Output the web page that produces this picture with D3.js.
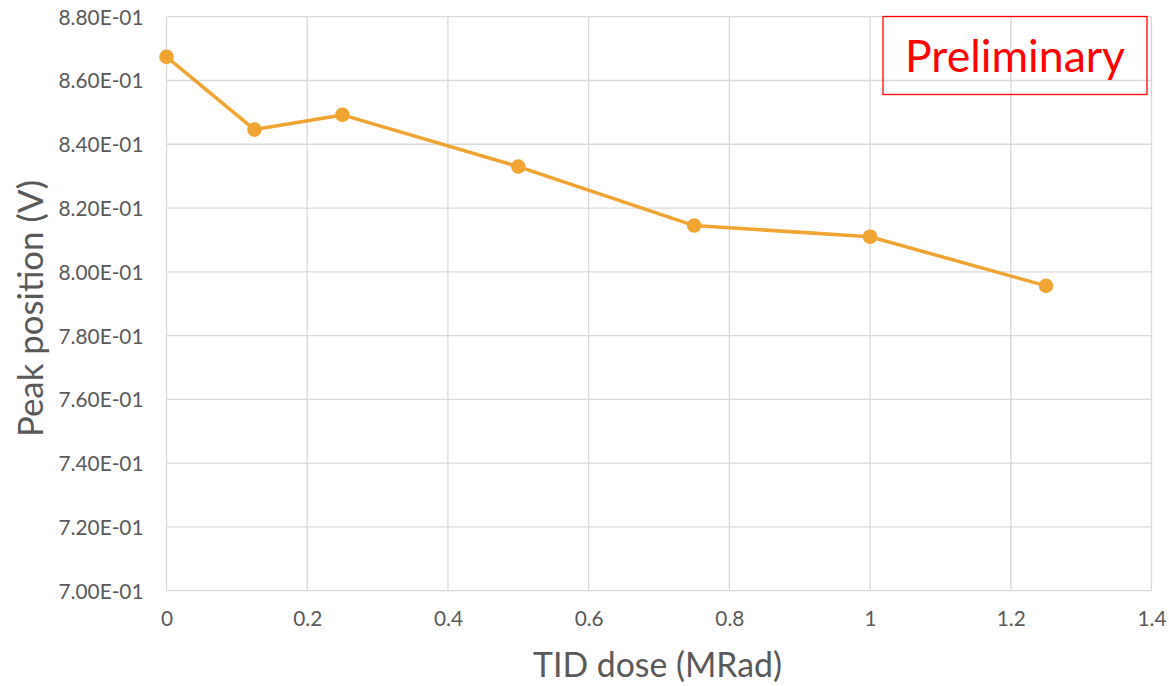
<!DOCTYPE html>
<html><head><meta charset="utf-8">
<script src="https://cdn.jsdelivr.net/npm/d3@7"></script>
<style>body{margin:0;background:#fff}svg{display:block}</style>
</head><body>
<script>
const doses = [0, 0.125, 0.25, 0.5, 0.75, 1.0, 1.25];
const peaks = [0.8674, 0.8446, 0.8492, 0.8330, 0.8145, 0.8110, 0.7956];
const xTicks = [0, 0.2, 0.4, 0.6, 0.8, 1, 1.2, 1.4];
const yTicks = [0.70, 0.72, 0.74, 0.76, 0.78, 0.80, 0.82, 0.84, 0.86, 0.88];

const W = 1169, H = 686;
const m = {l:166.5, r:1151.5, t:16.7, b:590.7};
const font = "Lato, 'Open Sans', sans-serif";
const svg = d3.select("body").append("svg").attr("width", W).attr("height", H);
const x = d3.scaleLinear().domain([0,1.4]).range([m.l, m.r]);
const y = d3.scaleLinear().domain([0.70,0.88]).range([m.b, m.t]);

function fitSize(sel, target, base) {
  const w = sel.node().getComputedTextLength();
  return base * target / w;
}

// gridlines
svg.append("g").selectAll("line").data(yTicks).join("line")
  .attr("x1", m.l).attr("x2", m.r).attr("y1", d=>y(d)).attr("y2", d=>y(d))
  .attr("stroke", "#d9d9d9").attr("stroke-width", 1.3);
svg.append("g").selectAll("line").data(xTicks).join("line")
  .attr("y1", m.t).attr("y2", m.b).attr("x1", d=>x(d)).attr("x2", d=>x(d))
  .attr("stroke", "#d9d9d9").attr("stroke-width", 1.3);

// axes labels
const yAxis = d3.axisLeft(y).tickValues(yTicks).tickSize(0).tickPadding(23)
  .tickFormat(d => d3.format(".2e")(d).replace("e-1","E-01"));
const gy = svg.append("g").attr("transform", `translate(${m.l},0)`).call(yAxis);
gy.select(".domain").remove();
gy.selectAll("text").attr("font-family", font).attr("font-size", 19).attr("fill", "#595959");
const tickSize = fitSize(gy.select("text"), 85, 19);
gy.selectAll("text").attr("font-size", tickSize).attr("dy", "0.36em");

const xAxis = d3.axisBottom(x).tickValues(xTicks).tickSize(0).tickPadding(21)
  .tickFormat(d => d3.format("~g")(d));
const gx = svg.append("g").attr("transform", `translate(0,${m.b})`).call(xAxis);
gx.select(".domain").remove();
gx.selectAll("text").attr("font-family", font).attr("font-size", tickSize).attr("fill", "#595959");

// axis titles
const xt = svg.append("text").attr("x", 657.5).attr("y", 677)
  .attr("text-anchor", "middle").attr("font-family", font).attr("font-size", 31)
  .attr("fill", "#595959").text("TID dose (MRad)");
xt.attr("font-size", fitSize(xt, 249, 31));
const yt = svg.append("text").attr("transform", `translate(43,308.5) rotate(-90)`)
  .attr("text-anchor", "middle").attr("font-family", font).attr("font-size", 31)
  .attr("fill", "#595959").text("Peak position (V)");
yt.attr("font-size", fitSize(yt, 257, 31));

// series
const data = doses.map((d,i)=>({x:d, y:peaks[i]}));
svg.append("path").datum(data)
  .attr("d", d3.line().x(d=>x(d.x)).y(d=>y(d.y)))
  .attr("fill", "none").attr("stroke", "#F0A532").attr("stroke-width", 3.5)
  .attr("stroke-linejoin", "round");
svg.append("g").selectAll("circle").data(data).join("circle")
  .attr("cx", d=>x(d.x)).attr("cy", d=>y(d.y)).attr("r", 7.3).attr("fill", "#F0A532");

// Preliminary box
svg.append("rect").attr("x", 883).attr("y", 16.5).attr("width", 264).attr("height", 78)
  .attr("fill", "none").attr("stroke", "#ff0000").attr("stroke-width", 1.3);
const pt = svg.append("text").attr("x", 1015).attr("y", 72).attr("text-anchor", "middle")
  .attr("font-family", font).attr("font-size", 40).attr("fill", "#ff0000").text("Preliminary");
pt.attr("font-size", fitSize(pt, 220, 40));
</script>
</body></html>
